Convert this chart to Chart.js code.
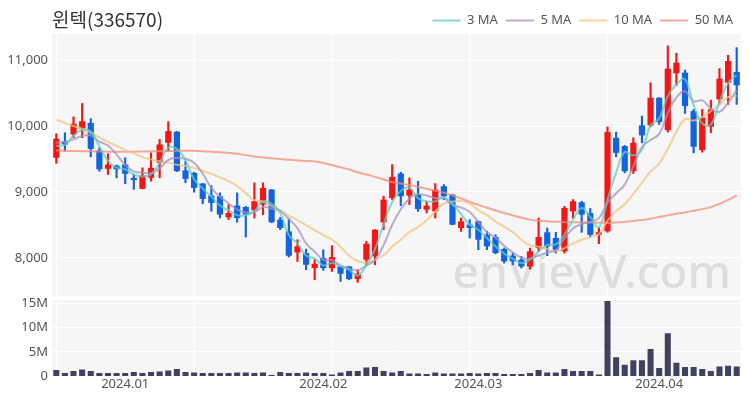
<!DOCTYPE html>
<html><head><meta charset="utf-8">
<script src="https://cdn.jsdelivr.net/npm/chart.js@4"></script>
<style>
html,body{margin:0;padding:0;background:#fff;}
#wrap{position:relative;width:750px;height:400px;overflow:hidden;}
.box{position:absolute;left:0;width:750px;}
</style></head><body>
<div id="wrap">
<div class="box" style="top:0;height:308px"><canvas id="c1"></canvas></div>
<div class="box" style="top:288px;height:112px"><canvas id="c2"></canvas></div>
</div>
<script>
const dates = ['2023.12.18','2023.12.19','2023.12.20','2023.12.21','2023.12.22','2023.12.26','2023.12.27','2023.12.28',
'2024.01.02','2024.01.03','2024.01.04','2024.01.05','2024.01.08','2024.01.09','2024.01.10','2024.01.11','2024.01.12','2024.01.15','2024.01.16','2024.01.17','2024.01.18','2024.01.19','2024.01.22','2024.01.23','2024.01.24','2024.01.25','2024.01.26','2024.01.29','2024.01.30','2024.01.31',
'2024.02.01','2024.02.02','2024.02.05','2024.02.06','2024.02.07','2024.02.08','2024.02.13','2024.02.14','2024.02.15','2024.02.16','2024.02.19','2024.02.20','2024.02.21','2024.02.22','2024.02.23','2024.02.26','2024.02.27','2024.02.28','2024.02.29',
'2024.03.04','2024.03.05','2024.03.06','2024.03.07','2024.03.08','2024.03.11','2024.03.12','2024.03.13','2024.03.14','2024.03.15','2024.03.18','2024.03.19','2024.03.20','2024.03.21','2024.03.22','2024.03.25','2024.03.26','2024.03.27','2024.03.28','2024.03.29',
'2024.04.01','2024.04.02','2024.04.03','2024.04.04','2024.04.05','2024.04.08','2024.04.09','2024.04.11','2024.04.12','2024.04.15','2024.04.16'];

const opens = [9520,9770,9875,9960,10050,9630,9352,9400,9418,9215,9048,9215,9443,9748,9915,9327,9290,9129,8946,8936,
8615,8793,8772,8722,8808,9036,8580,8402,8083,8072,7844,7996,7844,7869,7869,7677,7971,8022,8539,8909,
9280,8945,8960,8732,8706,9087,8960,8453,8504,8554,8351,8316,8133,8032,7971,7869,8148,8387,8301,8098,
8706,8843,8680,8352,8403,9823,9697,9316,10011,10011,10432,9940,10803,10813,10229,9636,9991,10407,10660,10823];
const highs = [9885,9900,10140,10345,10115,9670,9580,9410,9520,9266,9367,9595,9798,10067,9920,9470,9300,9130,9098,8987,
8808,8986,8780,9138,9138,9040,8615,8590,8275,8133,7971,8123,8184,7870,7870,7819,8250,8430,8935,9417,
9300,9214,9163,8859,9128,9112,8965,8605,8580,8560,8402,8351,8148,8072,8022,8148,8605,8453,8387,8783,
8884,8860,8750,8454,9990,9910,9707,9823,10153,10660,10435,11219,11107,10853,10255,10255,10397,10874,11076,11193];
const lows = [9435,9620,9825,9825,9535,9315,9266,9215,9125,9040,9048,9165,9215,9621,9310,9140,8997,8820,8708,8606,
8580,8540,8316,8605,8656,8535,8427,8012,7945,7819,7666,7809,7793,7641,7666,7626,7895,7895,8427,8884,
8793,8808,8706,8681,8605,8884,8500,8402,8301,8123,8123,8062,7920,7895,7844,7829,8098,8032,8072,8072,
8605,8387,8310,8215,8388,9534,9291,9281,9747,9991,10026,9910,10620,10194,9595,9605,9900,10331,10331,10331];
const closes = [9810,9720,10035,10075,9655,9345,9418,9345,9276,9180,9250,9367,9722,9925,9317,9200,9063,8895,8834,8657,
8681,8605,8656,8859,9062,8540,8453,8032,8174,7895,7910,7844,8012,7758,7677,7758,8214,8427,8884,9229,
8935,9036,8742,8793,9036,8935,8504,8554,8453,8275,8174,8072,7946,7946,7869,8098,8316,8174,8123,8757,
8859,8656,8350,8388,9910,9595,9316,9747,9859,10432,10062,10874,10965,10305,9687,10128,10255,10721,10990,10620];
const volumes = [1.3,0.7,1.1,1.4,1.1,0.7,0.7,0.7,0.7,0.9,0.7,0.9,1.0,1.2,1.5,0.9,0.8,0.7,0.7,0.7,
0.7,0.8,0.8,0.7,0.8,0.3,0.9,0.7,0.7,0.8,0.7,0.7,0.4,0.8,1.1,1.1,1.8,1.9,1.1,0.8,
1.1,0.6,0.6,0.5,0.8,0.6,0.6,0.6,0.7,0.6,0.7,0.7,0.5,0.5,0.5,0.7,1.3,0.8,0.8,1.5,
1.1,1.1,1.1,0.4,15.4,3.9,2.4,3.3,3.3,5.6,1.7,8.8,2.8,1.9,1.9,1.5,1.1,2.0,2.2,2.0];
const ma3 = [9700,9720,9855,9943,9922,9692,9473,9369,9346,9267,9235,9266,9446,9671,9655,9481,9193,9053,8931,8795,
8724,8648,8647,8707,8859,8820,8685,8342,8220,8034,7993,7883,7922,7871,7816,7731,7883,8133,8508,8847,
9016,9067,8904,8857,8857,8921,8825,8664,8504,8427,8301,8174,8064,7988,7920,7971,8094,8196,8204,8351,
8580,8757,8622,8465,8883,9298,9607,9553,9641,10013,10118,10456,10634,10715,10319,10040,10023,10368,10655,10777];
const ma5 = [9750,9760,9800,9850,9859,9766,9706,9568,9408,9313,9294,9284,9359,9489,9516,9506,9445,9280,9062,8930,
8826,8734,8687,8692,8773,8744,8714,8589,8452,8219,8093,7971,7967,7884,7840,7810,7884,7967,8192,8502,
8738,8902,8965,8947,8908,8908,8802,8764,8696,8544,8392,8306,8184,8083,8001,7986,8035,8081,8116,8294,
8446,8514,8549,8602,8833,8980,9112,9391,9685,9790,9883,10195,10438,10528,10379,10392,10268,10219,10356,10543];
const ma10 = [10100,10050,10000,9960,9900,9830,9760,9700,9640,9586,9530,9495,9463,9448,9415,9400,9365,9320,9275,9223,
9166,9090,8983,8877,8851,8785,8724,8638,8572,8496,8419,8343,8278,8168,8030,7951,7927,7967,8038,8171,
8274,8393,8466,8570,8705,8823,8852,8865,8822,8726,8650,8554,8474,8390,8273,8189,8170,8132,8099,8148,
8216,8274,8315,8359,8563,8713,8813,8970,9144,9311,9432,9653,9915,10107,10084,10138,10231,10329,10442,10461];
const ma50 = [9630,9625,9622,9620,9618,9615,9613,9612,9612,9613,9615,9617,9620,9622,9625,9626,9625,9620,9612,9603,
9595,9580,9560,9540,9525,9512,9500,9490,9480,9472,9465,9440,9410,9375,9340,9300,9265,9230,9190,9150,
9130,9105,9080,9050,9020,8990,8950,8900,8850,8805,8760,8720,8680,8645,8610,8580,8565,8555,8548,8542,
8540,8537,8535,8533,8530,8535,8545,8560,8575,8595,8620,8645,8670,8690,8715,8740,8770,8820,8880,8950];
const priceTicks = [8000, 9000, 10000, 11000];
const volTicks = [0, 5, 10, 15];
const monthTickIndex = [8, 31, 49, 70];
const monthTickLabels = ['2024.01', '2024.02', '2024.03', '2024.04'];
const gridEvery = 16;

const UP = 'rgb(242,22,22)', DOWN = 'rgb(18,98,226)';
const candleColors = closes.map((c, i) => c >= opens[i] ? UP : DOWN);
const TICK_FONT = {family: 'Noto Sans', size: 13};
const TICK_COLOR = '#555';

const panelBg = {
  id: 'panelBg',
  beforeDraw(chart) {
    const {ctx, chartArea: a} = chart;
    ctx.save();
    ctx.fillStyle = 'rgb(246,246,246)';
    ctx.fillRect(a.left, a.top, a.right - a.left, a.bottom - a.top);
    ctx.restore();
  }
};
const titlePlugin = {
  id: 'titleText',
  afterLayout(chart) {
    if (chart.legend) { chart.legend.top += 3; chart.legend.bottom += 3; }
  },
  afterDraw(chart) {
    const ctx = chart.ctx;
    ctx.save();
    ctx.font = '19px "Noto Sans CJK KR"';
    ctx.fillStyle = '#333';
    ctx.textBaseline = 'middle';
    ctx.fillText('윈텍(336570)', 52, 20);
    ctx.restore();
  }
};
const watermark = {
  id: 'watermark',
  beforeDatasetsDraw(chart) {
    const {ctx, chartArea: a} = chart;
    ctx.save();
    ctx.font = '500 46px "Noto Sans"';
    ctx.fillStyle = 'rgba(190,190,190,0.45)';
    ctx.textAlign = 'right';
    ctx.textBaseline = 'alphabetic';
    ctx.fillText('enVievV.com', a.right - 10, a.bottom - 8);
    ctx.restore();
  }
};

const xGrid = {
  offset: false,
  drawTicks: false,
  color: (c) => (c.index % gridEvery === 0 ? '#ffffff' : 'rgba(0,0,0,0)'),
  lineWidth: 1
};
const fixWidth = (s) => { s.width = 52; };

function lineDS(label, data, color) {
  return {type: 'line', label, data, borderColor: color, backgroundColor: color, borderWidth: 2,
    pointRadius: 0, tension: 0.4, fill: false};
}

new Chart(document.getElementById('c1'), {
  type: 'bar',
  data: {
    labels: dates,
    datasets: [
      lineDS('3 MA', ma3, 'rgba(95,205,195,0.75)'),
      lineDS('5 MA', ma5, 'rgba(165,145,190,0.75)'),
      lineDS('10 MA', ma10, 'rgba(242,196,130,0.75)'),
      lineDS('50 MA', ma50, 'rgba(245,140,120,0.75)'),
      {label: 'body', data: opens.map((o, i) => [o, closes[i]]), backgroundColor: candleColors,
        grouped: false, barPercentage: 0.72, categoryPercentage: 1, borderWidth: 0},
      {label: 'wick', data: lows.map((l, i) => [l, highs[i]]), backgroundColor: candleColors,
        grouped: false, barThickness: 1.5, borderWidth: 0}
    ]
  },
  options: {
    responsive: true, maintainAspectRatio: false, animation: false, devicePixelRatio: 1,
    layout: {padding: {left: 0, right: 9, top: 0, bottom: 12}},
    plugins: {
      legend: {
        position: 'top', align: 'end',
        title: {display: true, text: '', font: {size: 3, lineHeight: 1}, padding: 0},
        labels: {
          usePointStyle: true, pointStyle: 'line', pointStyleWidth: 28,
          font: {family: 'Noto Sans', size: 13}, color: '#555', padding: 8,
          filter: (item) => item.text.indexOf('MA') >= 0
        }
      },
      tooltip: {enabled: false}
    },
    scales: {
      x: {offset: true, ticks: {display: false}, grid: xGrid, border: {display: false},
        afterFit: (s) => { s.height = 0; }},
      y: {
        min: 7420, max: 11400,
        afterBuildTicks: (s) => { s.ticks = priceTicks.map(v => ({value: v})); },
        afterFit: fixWidth,
        ticks: {font: TICK_FONT, color: TICK_COLOR, padding: 4, callback: (v) => v.toLocaleString('en-US')},
        grid: {color: '#ffffff', drawTicks: false, lineWidth: 1},
        border: {display: false}
      }
    }
  },
  plugins: [panelBg, watermark, titlePlugin]
});

new Chart(document.getElementById('c2'), {
  type: 'bar',
  data: {
    labels: dates,
    datasets: [{label: 'Volume', data: volumes, backgroundColor: '#41415f', barPercentage: 0.7, categoryPercentage: 1, borderWidth: 0}]
  },
  options: {
    responsive: true, maintainAspectRatio: false, animation: false, devicePixelRatio: 1,
    layout: {padding: {left: 0, right: 9, top: 12, bottom: 8}},
    plugins: {legend: {display: false}, tooltip: {enabled: false}},
    scales: {
      x: {
        offset: true,
        ticks: {
          autoSkip: false, maxRotation: 0, minRotation: 0, font: TICK_FONT, color: TICK_COLOR, padding: 0,
          callback: (v, i) => { const k = monthTickIndex.indexOf(i); return k >= 0 ? monthTickLabels[k] : ''; }
        },
        grid: xGrid, border: {display: false}
      },
      y: {
        min: 0, max: 15.62,
        afterBuildTicks: (s) => { s.ticks = volTicks.map(v => ({value: v})); },
        afterFit: fixWidth,
        ticks: {font: TICK_FONT, color: TICK_COLOR, padding: 4, callback: (v) => v === 0 ? '0' : v + 'M'},
        grid: {color: '#ffffff', drawTicks: false, lineWidth: 1},
        border: {display: false}
      }
    }
  },
  plugins: [panelBg]
});
</script>
</body></html>
